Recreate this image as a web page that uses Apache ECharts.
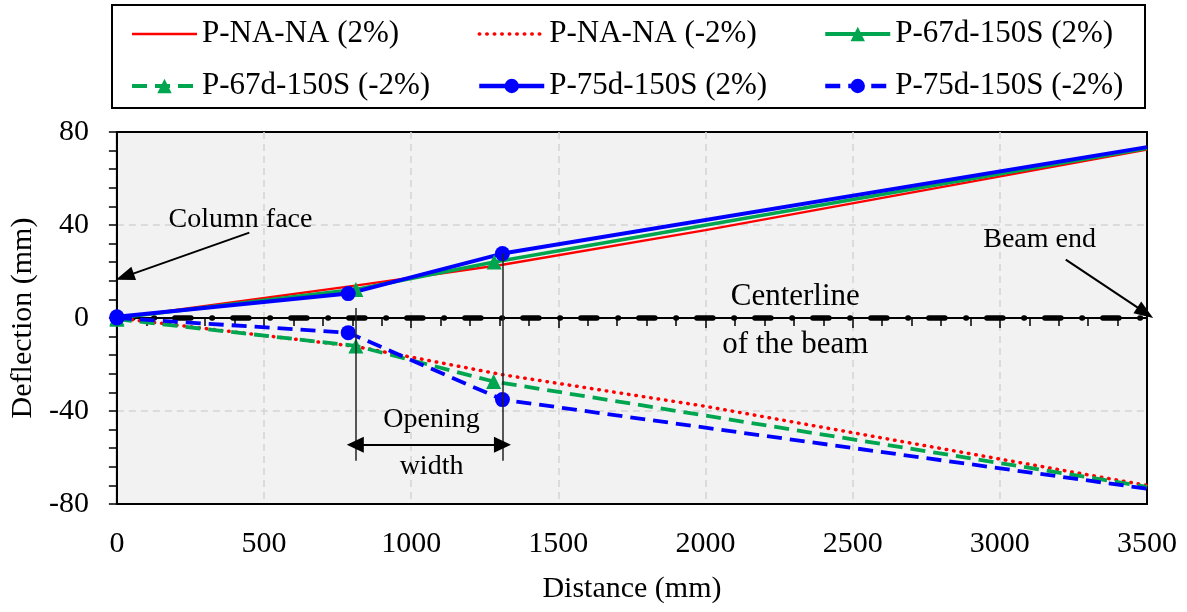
<!DOCTYPE html>
<html>
<head>
<meta charset="utf-8">
<script src="https://cdn.jsdelivr.net/npm/echarts@6/dist/echarts.min.js"></script>
<style>
  html, body { margin: 0; padding: 0; background: #fff; }
  #chart { width: 1187px; height: 612px; }
</style>
</head>
<body>
<div id="chart"></div>
<script>
// Axis ticks
const xTicks = [0, 500, 1000, 1500, 2000, 2500, 3000, 3500];
const yTicks = [-80, -40, 0, 40, 80];

// Deflection profiles along the beam (distance mm, deflection mm)
const naPosX = [0, 810, 1310, 2000, 3500];
const naPosY = [0, 13.9, 22.9, 37.8, 72.4];
const naNegX = [0, 810, 1310, 2000, 3500];
const naNegY = [0, -12.2, -24.4, -38.0, -72.0];
const d67PosX = [0, 812, 1282, 3500];
const d67PosY = [0, 12.3, 24.1, 73.0];
const d67NegX = [0, 812, 1280, 3500];
const d67NegY = [-0.5, -12.0, -27.3, -72.6];
const d75PosX = [0, 786, 1310, 3500];
const d75PosY = [0.5, 10.5, 27.7, 73.5];
const d75NegX = [0, 786, 1310, 3500];
const d75NegY = [0, -6.3, -35.1, -73.4];

// Beam centerline
const centerX = [0, 3500];
const centerY = [0, 0];

// Opening edges
const openingX = [810, 1310];

const FONT = '"Liberation Serif", "Times New Roman", serif';

// Markers only on the measured points, not at the beam end
function pts(xs, ys, marked) {
  return xs.map((x, i) => {
    const item = { value: [x, ys[i]] };
    if (!marked || i === xs.length - 1) item.symbol = 'none';
    return item;
  });
}

function lineSeries(name, xs, ys, color, width, dash, symbol, size, marked, cap) {
  return {
    name, type: 'line', data: pts(xs, ys, marked),
    symbol, symbolSize: size, showSymbol: true,
    itemStyle: { color },
    lineStyle: { color, width, type: dash, cap: cap || 'butt' },
    animation: false, z: 3
  };
}

const chart = echarts.init(document.getElementById('chart'), null, { renderer: 'canvas' });

const legendText = { fontFamily: FONT, fontSize: 31, color: '#000', lineHeight: 32 };
function legendItem(name, width, noSymbol) {
  const item = { name, lineStyle: { width } };
  if (noSymbol) item.itemStyle = { opacity: 0 };
  return item;
}
function legendCol(left, items) {
  return {
    orient: 'vertical', left, top: 18, itemWidth: 65, itemHeight: 18,
    itemGap: 20, itemTextGap: 8, textStyle: legendText, data: items,
    selectedMode: false, padding: 0
  };
}

const plainNum = v => String(v);

const option = {
  animation: false,
  backgroundColor: '#fff',
  graphic: [{
    type: 'rect', shape: { x: 112, y: 5, width: 1033, height: 103 },
    style: { fill: 'none', stroke: '#000', lineWidth: 2 }, silent: true
  }],
  legend: [
    legendCol(130, [legendItem('P-NA-NA (2%)', 2.5, true), legendItem('P-67d-150S (-2%)', 4)]),
    legendCol(477, [legendItem('P-NA-NA (-2%)', 3.5, true), legendItem('P-75d-150S (2%)', 4.5)]),
    legendCol(823, [legendItem('P-67d-150S (2%)', 4), legendItem('P-75d-150S (-2%)', 4.5)])
  ],
  grid: {
    left: 114, right: 40, top: 132, bottom: 108,
    show: true, backgroundColor: '#f2f2f2', borderColor: '#000', borderWidth: 2
  },
  xAxis: {
    type: 'value', min: xTicks[0], max: xTicks[xTicks.length - 1], interval: 500,
    name: 'Distance (mm)', nameLocation: 'middle', nameGap: 70,
    nameTextStyle: { fontFamily: FONT, fontSize: 30, color: '#000' },
    axisLine: { show: true, lineStyle: { color: '#000', width: 2 } },
    axisTick: { show: true, length: 10, lineStyle: { color: '#000', width: 1.5 } },
    minorTick: { show: true, splitNumber: 5, length: 8, lineStyle: { color: '#000', width: 1.5 } },
    axisLabel: { fontFamily: FONT, fontSize: 30, color: '#000', margin: 25, formatter: plainNum },
    splitLine: { show: true, showMinLine: false, showMaxLine: false, lineStyle: { color: '#d4d4d4', width: 1.5, type: [7, 5] } }
  },
  yAxis: {
    type: 'value', min: yTicks[0], max: yTicks[yTicks.length - 1], interval: 40,
    name: 'Deflection (mm)', nameLocation: 'middle', nameGap: 76,
    nameTextStyle: { fontFamily: FONT, fontSize: 30, color: '#000' },
    axisLine: { show: true, lineStyle: { color: '#000', width: 2 } },
    axisTick: { show: true, length: 8, lineStyle: { color: '#000', width: 1.5 } },
    minorTick: { show: true, splitNumber: 5, length: 8, lineStyle: { color: '#000', width: 1.5 } },
    axisLabel: { fontFamily: FONT, fontSize: 30, color: '#000', margin: 28, formatter: plainNum },
    splitLine: { show: true, showMinLine: false, showMaxLine: false, lineStyle: { color: '#d4d4d4', width: 1.5, type: [7, 5] } }
  },
  series: [
    {
      name: 'Centerline', type: 'line', data: centerX.map((x, i) => [x, centerY[i]]),
      symbol: 'none', lineStyle: { color: '#000', width: 5.5, type: [16, 21, 0.5, 20.5], cap: 'round' },
      z: 2, animation: false, silent: true
    },
    lineSeries('P-NA-NA (2%)', naPosX, naPosY, '#ff0000', 2.4, 'solid', 'none', 0, false),
    lineSeries('P-NA-NA (-2%)', naNegX, naNegY, '#ff0000', 3.5, [0.5, 7], 'none', 0, false, 'round'),
    lineSeries('P-67d-150S (2%)', d67PosX, d67PosY, '#00a550', 3.6, 'solid', 'triangle', 15, true),
    lineSeries('P-67d-150S (-2%)', d67NegX, d67NegY, '#00a550', 3.8, [15, 8], 'triangle', 15, true),
    lineSeries('P-75d-150S (2%)', d75PosX, d75PosY, '#0000ff', 4, 'solid', 'circle', 15, true),
    lineSeries('P-75d-150S (-2%)', d75NegX, d75NegY, '#0000ff', 3.8, [15, 8], 'circle', 15, true),
    {
      name: 'notes', type: 'line', data: [], z: 5, animation: false, silent: true,
      markLine: {
        silent: true, animation: false, symbol: 'none',
        label: { show: false },
        emphasis: { disabled: true },
        lineStyle: { color: '#000', width: 2, type: 'solid' },
        data: [
          // Column face arrow
          [{ coord: [450, 36.7], symbol: 'none' }, { coord: [26.7, 17.8], symbol: 'triangle', symbolSize: [14, 19] }],
          // Beam end arrow
          [{ coord: [3224, 25.1], symbol: 'none' }, { coord: [3494, 2.3], symbol: 'triangle', symbolSize: [14, 19] }],
          // Opening edges
          [{ coord: [openingX[0], 4.3], symbol: 'none', lineStyle: { width: 1.5, color: '#222' } }, { coord: [openingX[0], -61.4], symbol: 'none' }],
          [{ coord: [openingX[1], 27.7], symbol: 'none', lineStyle: { width: 1.5, color: '#222' } }, { coord: [openingX[1], -61.4], symbol: 'none' }],
          // Opening width dimension
          [{ coord: [openingX[0], -54.5], symbol: 'triangle', symbolSize: [16, 17] }, { coord: [openingX[1], -54.5], symbol: 'triangle', symbolSize: [16, 17] }]
        ]
      },
      markPoint: {
        silent: true, animation: false, symbol: 'circle', symbolSize: 0,
        itemStyle: { color: 'transparent' },
        label: { show: true, position: 'inside', fontFamily: FONT, fontSize: 28, color: '#000', lineHeight: 47, align: 'center' },
        data: [
          { coord: [420, 42.3], label: { formatter: 'Column face' } },
          { coord: [3135, 33.7], label: { formatter: 'Beam end' } },
          { coord: [2305, -1.2], label: { formatter: 'Centerline\nof the beam', fontSize: 31, lineHeight: 48 } },
          { coord: [1069, -53.9], label: { formatter: 'Opening\nwidth' } }
        ]
      }
    }
  ]
};

chart.setOption(option);
</script>
</body>
</html>
